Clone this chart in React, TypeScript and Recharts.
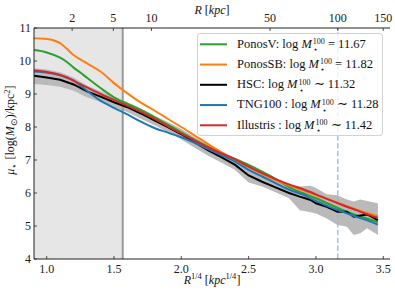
import React, { useLayoutEffect, useRef, useState } from 'react';
import { ComposedChart, Line, Area, XAxis, YAxis, ReferenceArea, ReferenceLine } from 'recharts';

// R^{1/4} grid for the model profiles
const modelR = [0.906, 1.0, 1.1, 1.15, 1.2, 1.25, 1.3, 1.4, 1.5, 1.6, 1.7, 1.8, 1.9, 2.0, 2.1, 2.2, 2.3, 2.4, 2.5, 2.6, 2.7, 2.8, 2.9, 3.0, 3.1, 3.2, 3.3, 3.4, 3.46];
const ponosV = [10.33, 10.26, 10.1, 9.97, 9.8, 9.65, 9.49, 9.18, 8.9, 8.7, 8.52, 8.3, 8.07, 7.84, 7.61, 7.4, 7.2, 7.03, 6.85, 6.65, 6.43, 6.18, 6.0, 5.84, 5.66, 5.48, 5.33, 5.2, 5.12];
const ponosSB = [10.69, 10.67, 10.54, 10.37, 10.18, 10.05, 9.93, 9.68, 9.33, 9.02, 8.74, 8.5, 8.25, 8.0, 7.74, 7.48, 7.23, 7.0, 6.79, 6.58, 6.39, 6.23, 6.09, 5.94, 5.8, 5.65, 5.5, 5.37, 5.3];
const tng100 = [9.68, 9.65, 9.57, 9.5, 9.41, 9.26, 9.1, 8.8, 8.58, 8.38, 8.16, 7.97, 7.83, 7.69, 7.52, 7.33, 7.14, 6.95, 6.7, 6.5, 6.3, 6.1, 5.95, 5.76, 5.58, 5.43, 5.28, 5.14, 5.04];
const illustris = [9.71, 9.67, 9.58, 9.5, 9.4, 9.3, 9.2, 9.0, 8.82, 8.64, 8.46, 8.25, 8.02, 7.8, 7.59, 7.38, 7.2, 7.02, 6.8, 6.6, 6.42, 6.26, 6.12, 5.96, 5.79, 5.63, 5.48, 5.33, 5.25];

// HSC observed profile and its uncertainty band
const hscR = [0.906, 1.0, 1.1, 1.2, 1.3, 1.4, 1.5, 1.6, 1.7, 1.8, 1.9, 2.0, 2.1, 2.2, 2.3, 2.4, 2.5, 2.6, 2.7, 2.8, 2.88, 2.96, 3.0, 3.08, 3.16, 3.23, 3.28, 3.33, 3.38, 3.46];
const hscMu = [9.55, 9.5, 9.43, 9.29, 9.08, 8.92, 8.75, 8.6, 8.41, 8.2, 8.0, 7.78, 7.53, 7.29, 7.08, 6.85, 6.53, 6.34, 6.17, 6.0, 5.89, 5.79, 5.69, 5.58, 5.43, 5.43, 5.28, 5.32, 5.35, 5.18];
const hscLo = [9.3, 9.27, 9.22, 9.1, 8.9, 8.76, 8.6, 8.45, 8.25, 8.05, 7.85, 7.62, 7.37, 7.13, 6.92, 6.7, 6.32, 6.2, 6.02, 5.84, 5.48, 5.42, 5.38, 5.23, 5.03, 4.98, 4.73, 4.78, 4.93, 4.73];
const hscHi = [9.78, 9.74, 9.66, 9.5, 9.26, 9.08, 8.9, 8.75, 8.56, 8.35, 8.15, 7.94, 7.69, 7.46, 7.26, 7.06, 6.8, 6.6, 6.4, 6.25, 6.2, 6.22, 6.15, 5.96, 5.93, 5.8, 5.74, 5.8, 5.76, 5.69];

const bottomTicks = [1.0, 1.5, 2.0, 2.5, 3.0, 3.5];
const yTicks = [4, 5, 6, 7, 8, 9, 10, 11];
const topTickKpc = [2, 5, 10, 50, 100, 150];
const innerCutKpc = 6;
const outerCutKpc = 100;

const legendNames = ['PonosV:', 'PonosSB:', 'HSC:', 'TNG100 :', 'Illustris :'];
const legendRel = ['=', '=', '\u223C', '\u223C', '\u223C'];
const legendMass = ['11.67', '11.82', '11.32', '11.28', '11.42'];
const legendColors = ['#2ca02c', '#ff7f0e', '#000000', '#1f77b4', '#d62728'];

const X_MIN = 0.906;
const X_MAX = 3.55;
const FONT = 'Liberation Serif, Times New Roman, serif';

const modelData = modelR.map((r, i) => ({ r, pv: ponosV[i], psb: ponosSB[i], tng: tng100[i], ill: illustris[i] }));
const hscData = hscR.map((r, i) => ({ r, mu: hscMu[i], band: [hscLo[i], hscHi[i]] }));

const tickStyle = { fontFamily: FONT, fontSize: 12, fill: '#1a1a1a' };
const tickLineStyle = { stroke: '#222', strokeWidth: 0.8 };

if (typeof document !== 'undefined') {
  document.body.style.margin = '0';
}

const ROW_STEP = 20.25;
const TEXT_X = 237;
const LEG_FS = 12.5;
const SUP_FS = 8;

function LegendBox() {
  const refs = useRef<(SVGTextElement | null)[]>([]);
  const [starX, setStarX] = useState<number[]>(legendNames.map((n) => TEXT_X + (n.length + 5) * 6 + 10));
  useLayoutEffect(() => {
    const xs = legendNames.map((n, i) => {
      const el = refs.current[i];
      const idx = n.length + 6; // index of first char of the "100" superscript
      try {
        if (el) return el.getStartPositionOfChar(idx).x;
      } catch (e) { /* ignore */ }
      return starX[i];
    });
    setStarX(xs);
  }, []);
  return (
    <div style={{ position: 'absolute', left: 0, top: 0, width: 395, height: 293, pointerEvents: 'none' }}>
      <div style={{ position: 'absolute', left: 197, top: 33, width: 186, height: 103, boxSizing: 'border-box', border: '1px solid #d3d3d3', borderRadius: 3, background: 'rgba(255,255,255,0.8)' }} />
      <svg width={395} height={293} style={{ position: 'absolute', left: 0, top: 0 }} fontFamily={FONT} fill="#111">
        {legendNames.map((n, i) => (
          <line key={'l' + n} x1={200} x2={227} y1={44.3 + ROW_STEP * i} y2={44.3 + ROW_STEP * i} stroke={legendColors[i]} strokeWidth={2} />
        ))}
        {legendNames.map((n, i) => (
          <text key={'t' + n} ref={(el) => { refs.current[i] = el; }} x={TEXT_X} y={47.7 + ROW_STEP * i} fontSize={LEG_FS} textAnchor="start" xmlSpace="preserve">
            <tspan>{n + ' log '}</tspan>
            <tspan fontStyle="italic">M</tspan>
            <tspan fontSize={SUP_FS} dx={1} dy={-3.6}>100</tspan>
            <tspan dy={3.6}>{' ' + legendRel[i] + ' ' + legendMass[i]}</tspan>
          </text>
        ))}
        {legendNames.map((n, i) => (
          <text key={'s' + n} x={starX[i] + 0.5} y={52 + ROW_STEP * i} fontSize={SUP_FS - 0.5} textAnchor="start">{'\u22C6'}</text>
        ))}
        <text x={212} y={13.5} fontSize={12} textAnchor="middle">
          <tspan fontStyle="italic">R</tspan>
          <tspan> [</tspan>
          <tspan fontStyle="italic">kpc</tspan>
          <tspan>]</tspan>
        </text>
        <text x={212} y={283.5} fontSize={12} textAnchor="middle">
          <tspan fontStyle="italic">R</tspan>
          <tspan fontSize={8.5} dy={-4.5}>1/4</tspan>
          <tspan dy={4.5}> [</tspan>
          <tspan fontStyle="italic">kpc</tspan>
          <tspan fontSize={8.5} dy={-4.5}>1/4</tspan>
          <tspan dy={4.5}>]</tspan>
        </text>
        <text transform="translate(14,130) rotate(-90)" fontSize={12} textAnchor="middle">
          <tspan fontStyle="italic">{'\u03BC'}</tspan>
          <tspan fontSize={8.5} dy={2.5}>{'\u22C6'}</tspan>
          <tspan dy={-2.5}> [log(</tspan>
          <tspan fontStyle="italic">M</tspan>
          <tspan fontSize={8.5} dy={2.5}>{'\u2299'}</tspan>
          <tspan dy={-2.5}>)/kpc</tspan>
          <tspan fontSize={8.5} dy={-4.5}>2</tspan>
          <tspan dy={4.5}>]</tspan>
        </text>
      </svg>
    </div>
  );
}

export default function App() {
  const topTicks = topTickKpc.map((k) => Math.pow(k, 0.25));
  const innerCut = Math.pow(innerCutKpc, 0.25);
  const outerCut = Math.pow(outerCutKpc, 0.25);
  return (
    <div style={{ position: 'absolute', left: 0, top: 0, width: 395, height: 293, background: '#fff' }}>
      <ComposedChart width={395} height={293} data={modelData} margin={{ top: 8, right: 5, bottom: 14, left: 8 }}>
        <XAxis xAxisId="b" type="number" dataKey="r" domain={[X_MIN, X_MAX]} allowDataOverflow ticks={bottomTicks}
          tickFormatter={(v: number) => v.toFixed(1)} height={20} tickLine={tickLineStyle} tickSize={-3} tickMargin={8}
          axisLine={{ stroke: '#222', strokeWidth: 1 }} tick={tickStyle} interval={0} />
        <XAxis xAxisId="t" orientation="top" type="number" dataKey="r" domain={[X_MIN, X_MAX]} allowDataOverflow ticks={topTicks}
          tickFormatter={(v: number) => String(Math.round(Math.pow(v, 4)))} height={20} tickLine={tickLineStyle} tickSize={-3} tickMargin={9.3}
          axisLine={{ stroke: '#222', strokeWidth: 1 }} tick={tickStyle} interval={0} />
        <YAxis yAxisId="l" type="number" domain={[4, 11]} ticks={yTicks} width={26} tickLine={tickLineStyle} tickSize={-3} tickMargin={6}
          axisLine={{ stroke: '#222', strokeWidth: 1 }} tick={tickStyle} interval={0} allowDataOverflow />
        <YAxis yAxisId="r" orientation="right" type="number" domain={[4, 11]} width={0} tick={false} tickLine={false}
          axisLine={{ stroke: '#222', strokeWidth: 1 }} allowDataOverflow />
        <ReferenceArea xAxisId="b" yAxisId="l" x1={X_MIN} x2={innerCut} y1={4} y2={11} fill="#e6e6e6" fillOpacity={1} stroke="none" />
        <ReferenceLine xAxisId="b" yAxisId="l" x={innerCut} stroke="#9a9a9a" strokeWidth={2} />
        <ReferenceLine xAxisId="b" yAxisId="l" x={outerCut} stroke="#8fbbdb" strokeWidth={1.3} strokeDasharray="5.5 2.4" />
        <Area xAxisId="b" yAxisId="l" data={hscData} dataKey="band" type="linear" stroke="none" fill="#bababa" fillOpacity={1} isAnimationActive={false} />
        <Line xAxisId="b" yAxisId="l" dataKey="pv" type="monotone" stroke="#2ca02c" strokeWidth={2} dot={false} isAnimationActive={false} />
        <Line xAxisId="b" yAxisId="l" dataKey="psb" type="monotone" stroke="#ff7f0e" strokeWidth={2} dot={false} isAnimationActive={false} />
        <Line xAxisId="b" yAxisId="l" data={hscData} dataKey="mu" type="linear" stroke="#000000" strokeWidth={2} dot={false} isAnimationActive={false} />
        <Line xAxisId="b" yAxisId="l" dataKey="tng" type="monotone" stroke="#1f77b4" strokeWidth={2} dot={false} isAnimationActive={false} />
        <Line xAxisId="b" yAxisId="l" dataKey="ill" type="monotone" stroke="#d62728" strokeWidth={2} dot={false} isAnimationActive={false} />
      </ComposedChart>
      <LegendBox />
    </div>
  );
}
